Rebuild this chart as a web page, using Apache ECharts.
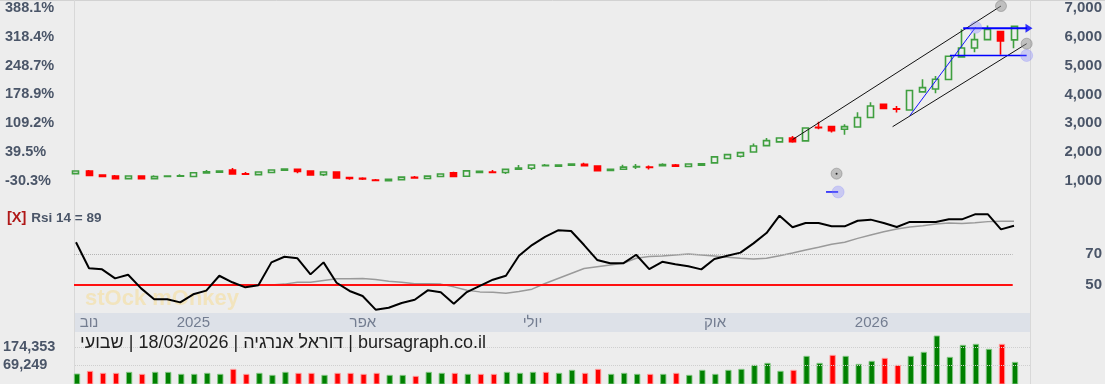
<!DOCTYPE html>
<html><head><meta charset="utf-8">
<script src="https://cdn.jsdelivr.net/npm/echarts@6/dist/echarts.min.js"></script>
<style>html,body{margin:0;padding:0;background:#ededed;}#c{width:1105px;height:384px;}</style>
</head><body><div id="c"></div>
<script>
// weekly candles: [open, close, low, high]
const ohlc = [
 [1245,1335,1240,1340],[1336,1180,1176,1372],[1200,1150,1145,1205],[1165,1065,1060,1198],[1070,1165,1065,1168],
 [1160,1070,1068,1162],[1070,1145,1065,1190],[1145,1160,1142,1163],[1155,1172,1152,1223],[1145,1278,1140,1280],
 [1270,1310,1265,1372],[1292,1335,1290,1337],[1370,1237,1235,1440],[1240,1228,1210,1300],[1212,1300,1210,1302],
 [1283,1370,1280,1372],[1362,1405,1360,1407],[1395,1325,1260,1397],[1335,1200,1198,1337],[1212,1300,1165,1302],
 [1300,1097,1095,1302],[1112,1076,1035,1114],[1083,1060,1025,1118],[1018,1008,980,1060],[1002,1045,1000,1047],
 [1038,1125,1035,1127],[1118,1092,1090,1162],[1074,1160,1072,1162],[1143,1230,1140,1232],[1272,1148,1145,1312],
 [1152,1340,1150,1342],[1282,1325,1280,1327],[1298,1285,1268,1370],[1283,1393,1235,1395],[1397,1440,1395,1545],
 [1432,1545,1375,1547],[1525,1538,1510,1580],[1507,1540,1505,1542],[1537,1580,1535,1582],[1570,1522,1520,1625],
 [1510,1350,1345,1515],[1352,1395,1350,1397],[1400,1470,1398,1555],[1480,1495,1410,1580],[1472,1460,1390,1530],
 [1522,1560,1520,1610],[1545,1505,1490,1580],[1492,1580,1490,1582],[1540,1585,1538,1587],[1620,1830,1618,1835],
 [1770,1905,1768,1907],[1850,1975,1810,1977],[2000,2205,1998,2290],[2220,2395,2218,2485],[2350,2485,2348,2487],
 [2480,2355,2320,2555],[2385,2835,2383,2837],[2855,2840,2790,3050],[2880,2740,2680,2885],[2790,2880,2600,2960],
 [2870,3200,2868,3380],[3200,3600,3198,3730],[3655,3510,3500,3665],[3500,3490,3370,3600],[3460,4140,3458,4142],
 [4090,4240,4088,4530],[4190,4530,4040,4640],[4520,5330,4518,5332],[5310,5620,5308,6270],[5620,5910,5470,6130],
 [5910,6260,5908,6400],[6195,5860,5380,6200],[5900,6370,5610,6385]
];
const volume = [
 15800,31700,19800,19700,25700,13800,25800,25600,13900,13800,
 19800,13900,43500,13800,19800,7900,25700,19800,19700,7900,
 19800,19700,13800,19800,7900,7800,2000,25700,19800,19700,
 13800,13900,13800,25700,19800,25700,25800,19800,37600,19800,
 43500,13800,19800,13900,13800,13800,19800,7900,37600,13800,
 37600,43500,67300,79200,31700,37600,120700,79200,126700,120700,
 73200,91000,108900,67300,120700,144500,241500,114800,186100,192000,
 162300,192000,85100
];
const rsi = [
 77.9,60.8,60.1,54.2,56.6,47.6,40.4,40.4,38.4,43.7,
 46.1,55.9,51.6,48.3,49.6,64.7,68.4,67.4,56.8,64.7,
 51.3,45.9,42.6,33.6,34.9,38.0,40.1,46.3,45.0,37.5,
 45.2,49.3,53.3,55.9,69.1,76.1,81.5,85.8,85.3,76.1,
 66.3,64.1,64.1,69.7,60.3,65.1,63.4,62.1,60.1,66.9,
 69.1,71.1,77.2,84.0,95.4,87.8,90.6,90.6,88.4,88.4,
 92.1,92.8,90.6,88.0,91.3,91.3,91.3,93.0,93.0,96.3,
 96.3,86.4,88.8
];
const rsiMa = [
 null,null,null,null,null,null,null,null,null,null,
 null,null,null,null,49.8,49.8,50.4,51.7,51.7,52.8,
 53.9,53.9,54.1,53.4,52.3,51.7,50.6,50.6,50.4,48.6,
 46.4,45.3,45.1,44.4,45.5,47.1,50.8,54.1,57.4,60.7,
 61.8,62.9,64.1,67.4,68.5,68.9,69.6,70.2,69.6,68.9,
 68.0,67.4,66.9,67.4,69.1,70.9,72.8,74.6,76.6,77.9,
 80.5,82.7,84.9,86.7,88.0,88.8,89.9,90.6,90.2,90.8,
 91.5,91.8,91.8
];
const basePrice = 1434;
const rsiLevels = [50, 70];
const volLevels = [69249, 174353];
const dateLabels = ['נוב', '2025', 'אפר', 'יולי', 'אוק', '2026'];
const dateLabelIdx = [1, 9, 22, 35, 49, 61];
// drawing-tool anchors [weekIndex, price]
const trendUpper = [[55.0, 2430], [71.0, 7080]];
const trendLower = [[62.68, 2879], [72.97, 5768]];
const blueDiag = [[64.0, 3262], [69.05, 6338]];
const blueTop = [[68.1, 6303], [73.0, 6303]];
const blueArrowTip = [[73.15, 6303]];
const blueBase = [[67.08, 5357], [72.97, 5357]];
const blueStub = [[57.57, 607], [58.5, 607]];
const grayHandles = [[71.0, 7080], [72.97, 5768], [58.38, 1244]];
const blueHandles = [[69.05, 6338], [72.97, 5357], [58.5, 607]];
const titleText = 'שבועי\u200E | 18/03/2026 | \u200Eדוראל אנרגיה\u200E | bursagraph.co.il';

const xMin = -0.153, xMax = 73.15;
const FONT = 'Liberation Sans, Arial, sans-serif';
const LBL = '#4a5568';
const volMin = -43573, volMax = 265203;

const chart = echarts.init(document.getElementById('c'), null, {renderer: 'canvas'});
const lineSeries = (pts, color, width, z) => ({
  type: 'line', xAxisIndex: 0, yAxisIndex: 0, data: pts, symbol: 'none', silent: true, clip: false,
  lineStyle: {color: color, width: width}, z: z || 6
});
const option = {
  backgroundColor: '#ededed',
  animation: false,
  textStyle: {fontFamily: FONT},
  title: [
    {text: titleText, left: 75, top: 329, textStyle: {fontSize: 18, fontWeight: 'normal', color: '#1e1e1e', fontFamily: FONT}},
    {text: '{x|[X]} {t|Rsi 14 = ' + Math.round(rsi[rsi.length - 1]) + '}', left: 2, top: 204,
     textStyle: {rich: {x: {fontSize: 14.5, fontWeight: 'bold', color: '#b01818', fontFamily: FONT}, t: {fontSize: 13.5, fontWeight: 'bold', color: LBL, fontFamily: FONT}}}}
  ],
  graphic: [
    {type: 'text', left: 85, top: 288, z: 1, style: {text: 'stOck mOnkey', font: 'bold 22px ' + FONT, fill: 'rgba(250,214,110,0.38)'}},
    {type: 'line', shape: {x1: 0, y1: 0.5, x2: 1105, y2: 0.5}, style: {stroke: '#d2d2d2', lineWidth: 1}, z: 0},
    {type: 'line', shape: {x1: 74.5, y1: 0, x2: 74.5, y2: 384}, style: {stroke: '#d8d8d8', lineWidth: 1}, z: 0},
    {type: 'line', shape: {x1: 1030.5, y1: 0, x2: 1030.5, y2: 384}, style: {stroke: '#d8d8d8', lineWidth: 1}, z: 0}
  ],
  grid: [
    {left: 74, right: 75, top: 0, height: 209.4},
    {left: 74, right: 75, top: 208.7, height: 103.4},
    {left: 74, right: 75, top: 313, height: 19, show: true, backgroundColor: '#dde1e8', borderWidth: 0},
    {left: 74, right: 75, top: 332, height: 52}
  ],
  xAxis: [0, 1, 2, 3].map(i => ({type: 'value', gridIndex: i, min: xMin, max: xMax, show: false})),
  yAxis: [
    {type: 'value', gridIndex: 0, position: 'right', min: 0, max: 7289, interval: 1000,
     axisLine: {show: false}, axisTick: {show: false}, splitLine: {show: false},
     axisLabel: {formatter: v => (v > 0 && v % 1000 === 0) ? v.toLocaleString('en-US') : '', align: 'right', margin: 73, color: LBL, fontSize: 15, fontWeight: 'bold', fontFamily: FONT}},
    {type: 'value', gridIndex: 0, position: 'left', min: 0, max: 7289, interval: 1000,
     axisLine: {show: false}, axisTick: {show: false}, splitLine: {show: false},
     axisLabel: {formatter: v => (v > 0 && v % 1000 === 0) ? ((v / basePrice - 1) * 100).toFixed(1) + '%' : '', align: 'left', margin: 69, color: LBL, fontSize: 14.5, fontWeight: 'bold', fontFamily: FONT}},
    {type: 'value', gridIndex: 1, position: 'right', min: 32, max: 100, interval: 2,
     axisLine: {show: false}, axisTick: {show: false}, splitLine: {show: false},
     axisLabel: {formatter: v => rsiLevels.indexOf(v) >= 0 ? String(v) : '', align: 'right', margin: 73, color: LBL, fontSize: 15, fontWeight: 'bold', fontFamily: FONT}},
    {type: 'value', gridIndex: 2, min: -1, max: 1, show: false},
    {type: 'value', gridIndex: 3, position: 'left', min: volMin, max: volMax,
     axisLine: {show: false}, axisTick: {show: false}, splitLine: {show: false},
     axisLabel: {customValues: volLevels, formatter: v => v.toLocaleString('en-US'), align: 'left', margin: 72, color: LBL, fontSize: 14.5, fontWeight: 'bold', fontFamily: FONT}}
  ],
  series: [
    {type: 'candlestick', xAxisIndex: 0, yAxisIndex: 0, clip: false, barWidth: 6.5, z: 5,
     data: ohlc.map((d, i) => [i, d[0], d[1], d[2], d[3]]),
     itemStyle: {color: 'rgba(0,0,0,0)', color0: '#ff0000', borderColor: '#3f9f3f', borderColor0: '#ff0000', borderWidth: 1.6}},
    lineSeries(trendUpper, '#111', 1),
    lineSeries(trendLower, '#111', 1),
    lineSeries(blueDiag, '#1414ff', 1),
    lineSeries(blueTop, '#0000ff', 2),
    lineSeries(blueBase, '#0000ff', 1.6),
    lineSeries(blueStub, '#0000ff', 1.4),
    {type: 'scatter', xAxisIndex: 0, yAxisIndex: 0, data: blueArrowTip, symbol: 'triangle', symbolSize: [9, 7], symbolRotate: -90, silent: true, z: 7,
     itemStyle: {color: '#0000ff'}},
    {type: 'scatter', xAxisIndex: 0, yAxisIndex: 0, data: grayHandles, symbol: 'circle', symbolSize: 11, silent: true, z: 8,
     itemStyle: {color: 'rgba(140,140,140,0.6)', borderColor: 'rgba(110,110,110,0.5)', borderWidth: 1}},
    {type: 'scatter', xAxisIndex: 0, yAxisIndex: 0, data: [grayHandles[2]], symbol: 'circle', symbolSize: 2, silent: true, z: 9,
     itemStyle: {color: '#000'}},
    {type: 'scatter', xAxisIndex: 0, yAxisIndex: 0, data: blueHandles, symbol: 'circle', symbolSize: 12, silent: true, z: 8,
     itemStyle: {color: 'rgba(120,120,255,0.38)', borderColor: 'rgba(120,120,255,0.3)', borderWidth: 1}},
    {type: 'line', xAxisIndex: 1, yAxisIndex: 2, data: rsiMa.map((v, i) => [i, v]), symbol: 'none', silent: true, z: 4,
     lineStyle: {color: '#9a9a9a', width: 1.5},
     markLine: {silent: true, symbol: ['none', 'none'], label: {show: false},
       data: [
         [{coord: [xMin, rsiLevels[1]], lineStyle: {color: '#b4b4b4', type: 'dotted', width: 1}}, {coord: [71.9, rsiLevels[1]]}],
         [{coord: [xMin, rsiLevels[0]], lineStyle: {color: '#ff1010', type: 'solid', width: 2.2}}, {coord: [71.9, rsiLevels[0]]}]
       ]}},
    {type: 'line', xAxisIndex: 1, yAxisIndex: 2, data: rsi.map((v, i) => [i, v]), symbol: 'none', silent: true, z: 5,
     lineStyle: {color: '#000', width: 2}},
    {type: 'scatter', xAxisIndex: 2, yAxisIndex: 3, data: dateLabelIdx.map(x => [x, 0]), symbol: 'circle', symbolSize: 1, silent: true,
     itemStyle: {color: 'rgba(0,0,0,0)'},
     label: {show: true, position: 'inside', formatter: p => dateLabels[p.dataIndex], color: '#59647a', fontSize: 15, fontFamily: FONT}},
    {type: 'custom', xAxisIndex: 3, yAxisIndex: 4, data: volume.map((v, i) => [i, v]), silent: true, z: 3,
     renderItem: (params, api) => {
       const i = api.value(0), v = api.value(1);
       const top = api.coord([i, v]);
       const base = api.coord([i, volMin]);
       const w = api.size([1, 0])[0] * 0.41;
       const up = i === 0 || ohlc[i][1] >= ohlc[i - 1][1];
       return {type: 'rect', shape: {x: top[0] - w / 2, y: top[1], width: w, height: base[1] - top[1]},
         style: {fill: up ? '#008000' : '#ff0000', stroke: up ? 'rgba(130,200,130,0.9)' : 'rgba(255,160,160,0.9)', lineWidth: 1}};
     },
     markLine: {silent: true, symbol: ['none', 'none'], label: {show: false},
       lineStyle: {color: '#cfcfcf', type: 'dotted', width: 1},
       data: volLevels.map(v => ({yAxis: v}))}}
  ]
};
chart.setOption(option);
</script>
</body></html>
